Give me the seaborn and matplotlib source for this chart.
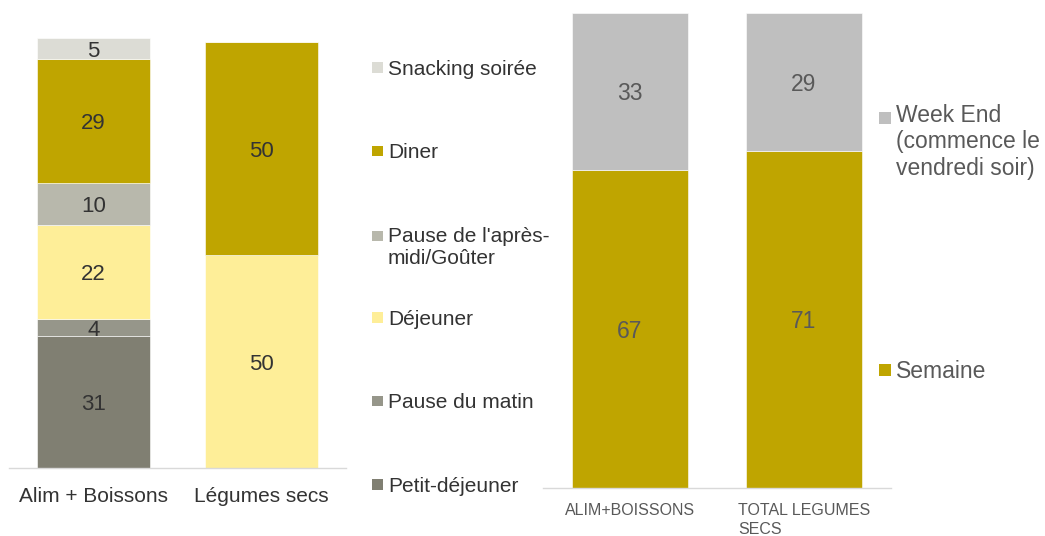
import matplotlib
matplotlib.use("Agg")
import matplotlib.pyplot as plt
import seaborn as sns
import numpy as np
from matplotlib.patches import Patch, Rectangle
from matplotlib.legend_handler import HandlerPatch

# Moments de consommation (left panel), stacked bottom to top
products = ["Alim + Boissons", "Légumes secs"]
meal_labels = ["Petit-déjeuner", "Pause du matin", "Déjeuner",
               "Pause de l'après-\nmidi/Goûter", "Diner", "Snacking soirée"]
petit_dejeuner = [31, 0]
pause_matin = [4, 0]
dejeuner = [22, 50]
pause_apres_midi = [10, 0]
diner = [29, 50]
snacking_soiree = [5, 0]
meal_colors = ["#807f72", "#96968a", "#feee98", "#b8b8ac", "#bfa500", "#dcdcd5"]

# Semaine / week-end (right panel)
periods = ["ALIM+BOISSONS", "TOTAL LEGUMES\nSECS"]
period_labels = ["Semaine", "Week End\n(commence le\nvendredi soir)"]
semaine = [67, 71]
week_end = [33, 29]
period_colors = ["#bfa500", "#bfbfbf"]

sns.set_style("white")
plt.rcParams["font.family"] = ["Liberation Sans", "DejaVu Sans"]

W, H = 1045, 536
fig = plt.figure(figsize=(W / 100, H / 100), dpi=100)
fig.patch.set_facecolor("white")


def px_rect(x0, x1, ytop, ybottom):
    return [x0 / W, 1 - ybottom / H, (x1 - x0) / W, (ybottom - ytop) / H]


ax1 = fig.add_axes(px_rect(9, 346, 38, 468))
ax2 = fig.add_axes(px_rect(543, 891, 13, 488))


def stacked(ax, cats, series, colors, text_kw):
    bottom = np.zeros(len(cats))
    for vals, col in zip(series, colors):
        vals = np.asarray(vals, dtype=float)
        sns.barplot(x=cats, y=vals, bottom=bottom, color=col, width=0.67,
                    saturation=1, errorbar=None, edgecolor="white",
                    linewidth=0.4, ax=ax)
        texts = ax.bar_label(ax.containers[-1],
                             labels=[f"{v:g}" if v else "" for v in vals],
                             label_type="center", **text_kw)
        for t in texts:
            t.set_verticalalignment("center_baseline")
        bottom += vals


stacked(ax1, products,
        [petit_dejeuner, pause_matin, dejeuner, pause_apres_midi, diner, snacking_soiree],
        meal_colors, dict(fontsize=16, color="#333333"))
stacked(ax2, periods, [semaine, week_end], period_colors,
        dict(fontsize=16.5, color="#595959"))

ax1.set_ylim(0, 101)
ax2.set_ylim(0, 100)

for ax, fs, col, pad in [(ax1, 15, "#333333", 14), (ax2, 11.5, "#595959", 10.7)]:
    ax.set_xlim(-0.5, 1.5)
    for side in ["left", "right", "top"]:
        ax.spines[side].set_visible(False)
    ax.spines["bottom"].set_color("#d9d9d9")
    ax.spines["bottom"].set_linewidth(1.0)
    ax.set_yticks([])
    ax.set_xlabel("")
    ax.set_ylabel("")
    ax.set_xticks([-0.5, 0.5, 1.5], minor=True)
    ax.tick_params(axis="x", which="major", length=0, pad=pad, labelsize=fs, labelcolor=col)
    ax.tick_params(axis="x", which="minor", length=4.5, width=1, color="#d9d9d9", direction="out")

for lab in ax2.get_xticklabels():
    lab.set_multialignment("left")
    lab.set_linespacing(1.38)


class FirstLineSquare(HandlerPatch):
    """Square legend key aligned with the first line of its label."""

    def __init__(self, lines=1, pitch=1.13):
        super().__init__()
        self.lines = lines
        self.pitch = pitch

    def create_artists(self, legend, orig_handle, xdescent, ydescent,
                       width, height, fontsize, trans):
        side = 0.51 * fontsize
        cx = -xdescent + width / 2
        cy = -ydescent + height / 2 + (self.lines - 1) / 2 * self.pitch * fontsize
        sq = Rectangle((cx - side / 2, cy - side / 2), side, side,
                       facecolor=orig_handle.get_facecolor(),
                       edgecolor="none", transform=trans)
        return [sq]


def add_legend(labels, colors, anchor_px, fs, spacing, textpad, textcolor,
               linespacing, pitch):
    handles = [Patch(facecolor=c) for c in colors]
    hmap = {h: FirstLineSquare(lines=l.count("\n") + 1, pitch=pitch)
            for h, l in zip(handles, labels)}
    leg = fig.legend(handles, labels, loc="upper left",
                     bbox_to_anchor=(anchor_px[0] / W, 1 - anchor_px[1] / H),
                     frameon=False, borderpad=0, borderaxespad=0, fontsize=fs,
                     labelspacing=spacing, handlelength=0.51, handleheight=0.7,
                     handletextpad=textpad, labelcolor=textcolor, handler_map=hmap)
    for t in leg.get_texts():
        t.set_linespacing(linespacing)
    return leg


# meal legend, listed top-down in the stacking order of the bars
rev_labels = meal_labels[::-1]
rev_colors = meal_colors[::-1]
add_legend(rev_labels[:3], rev_colors[:3], (372, 60), 15, 3.09, 0.25, "#333333", 1.25, 1.13)
add_legend(rev_labels[3:], rev_colors[3:], (372, 310), 15, 3.09, 0.25, "#333333", 1.25, 1.13)
add_legend(period_labels[::-1], period_colors[::-1], (879, 104), 16.5, 7.87, 0.22,
           "#595959", 1.19, 1.1)

fig.savefig("out.png", dpi=100, facecolor="white")
